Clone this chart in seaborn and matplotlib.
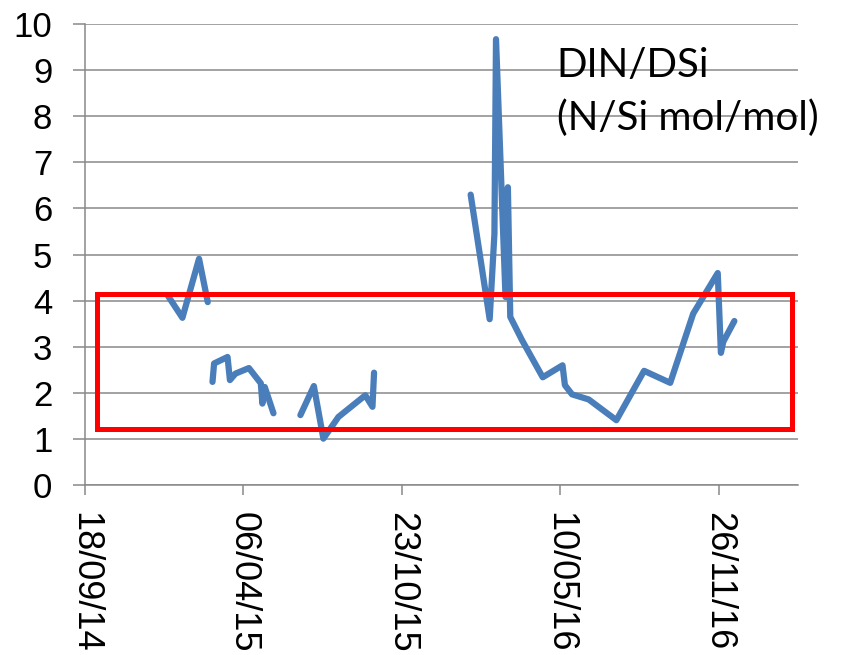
import pandas as pd
import numpy as np
import seaborn as sns
import matplotlib.pyplot as plt
import matplotlib.dates as mdates
from matplotlib.patches import Rectangle

# data (gaps between sampling campaigns -> separate segments)
seg1_dates = ["2015-01-01", "2015-01-19", "2015-02-09", "2015-02-20"]
seg1_vals = [4.10, 3.63, 4.91, 3.97]

seg2_dates = ["2015-02-26", "2015-02-28", "2015-03-17", "2015-03-20", "2015-03-27",
              "2015-04-13", "2015-04-28", "2015-04-30", "2015-05-03", "2015-05-14"]
seg2_vals = [2.24, 2.64, 2.78, 2.28, 2.42, 2.54, 2.21, 1.77, 2.13, 1.56]

seg3_dates = ["2015-06-17", "2015-07-04", "2015-07-16", "2015-08-04", "2015-09-07",
              "2015-09-16", "2015-09-18"]
seg3_vals = [1.52, 2.15, 1.01, 1.48, 1.95, 1.70, 2.44]

seg4_dates = ["2016-01-18", "2016-02-11", "2016-02-17", "2016-02-19", "2016-03-02",
              "2016-03-05", "2016-03-08", "2016-03-23", "2016-04-18", "2016-05-13",
              "2016-05-16", "2016-05-25", "2016-06-15", "2016-07-20", "2016-08-24",
              "2016-09-26", "2016-10-25", "2016-11-25", "2016-11-29", "2016-12-02",
              "2016-12-16"]
seg4_vals = [6.30, 3.60, 5.45, 9.67, 4.08, 6.46, 3.65, 3.14, 2.34, 2.60,
             2.17, 1.97, 1.86, 1.41, 2.48, 2.22, 3.72, 4.60, 2.87, 3.11,
             3.56]

# axis settings
x_start = pd.Timestamp("2014-09-18")
x_end = x_start + pd.Timedelta(days=900)
tick_dates = pd.date_range(x_start, periods=5, freq="200D")

# highlighted range (red box)
box_x = (x_start + pd.Timedelta(days=15.5), x_start + pd.Timedelta(days=893))
box_y = (1.22, 4.15)

frames = []
for i, (d, v) in enumerate([(seg1_dates, seg1_vals), (seg2_dates, seg2_vals),
                            (seg3_dates, seg3_vals), (seg4_dates, seg4_vals)]):
    frames.append(pd.DataFrame({"date": pd.to_datetime(d), "ratio": v, "seg": i}))
df = pd.concat(frames, ignore_index=True)

sns.set_theme(style="white")
plt.rcParams["font.family"] = ["Liberation Sans", "DejaVu Sans"]

fig = plt.figure(figsize=(8.5, 6.55), dpi=100)
ax = fig.add_axes([0.1, 0.2592, 0.8385, 0.7042])

sns.lineplot(data=df, x="date", y="ratio", units="seg", estimator=None,
             color="#4A7EBB", linewidth=4.5, ax=ax, legend=False)

# red box
x0, x1 = mdates.date2num(box_x[0]), mdates.date2num(box_x[1])
ax.add_patch(Rectangle((x0, box_y[0]), x1 - x0, box_y[1] - box_y[0],
                       fill=False, edgecolor="#FF0000", linewidth=3.6,
                       zorder=5, clip_on=False))

ax.set_xlim(x_start, x_end)
ax.set_ylim(0, 10)
ax.set_yticks(range(0, 11))
ax.yaxis.grid(True, color="#898989", linewidth=1.1)
ax.xaxis.grid(False)
ax.set_xticks(tick_dates)
ax.xaxis.set_major_formatter(mdates.DateFormatter("%d/%m/%y"))
ax.set_xlabel("")
ax.set_ylabel("")

for s in ["top", "right"]:
    ax.spines[s].set_visible(False)
for s in ["left", "bottom"]:
    ax.spines[s].set_color("#898989")
    ax.spines[s].set_linewidth(1.1)

ax.tick_params(axis="y", direction="out", length=8.5, width=1.1, color="#898989",
               pad=15, labelsize=25, labelcolor="black", left=True)
ax.tick_params(axis="x", direction="out", length=7, width=1.1, color="#898989",
               pad=12, labelsize=26, labelcolor="black", bottom=True)
for lbl in ax.get_xticklabels():
    lbl.set_rotation(270)
    lbl.set_ha("center")
    lbl.set_va("top")

label_font = ["Lato", "DejaVu Sans"]
fig.text(0.655, 0.882, "DIN/DSi", fontsize=29, family=label_font,
         va="baseline", ha="left", color="black")
fig.text(0.655, 0.802, "(N/Si mol/mol)", fontsize=29, family=label_font,
         va="baseline", ha="left", color="black")

fig.savefig("out.png", dpi=100)
